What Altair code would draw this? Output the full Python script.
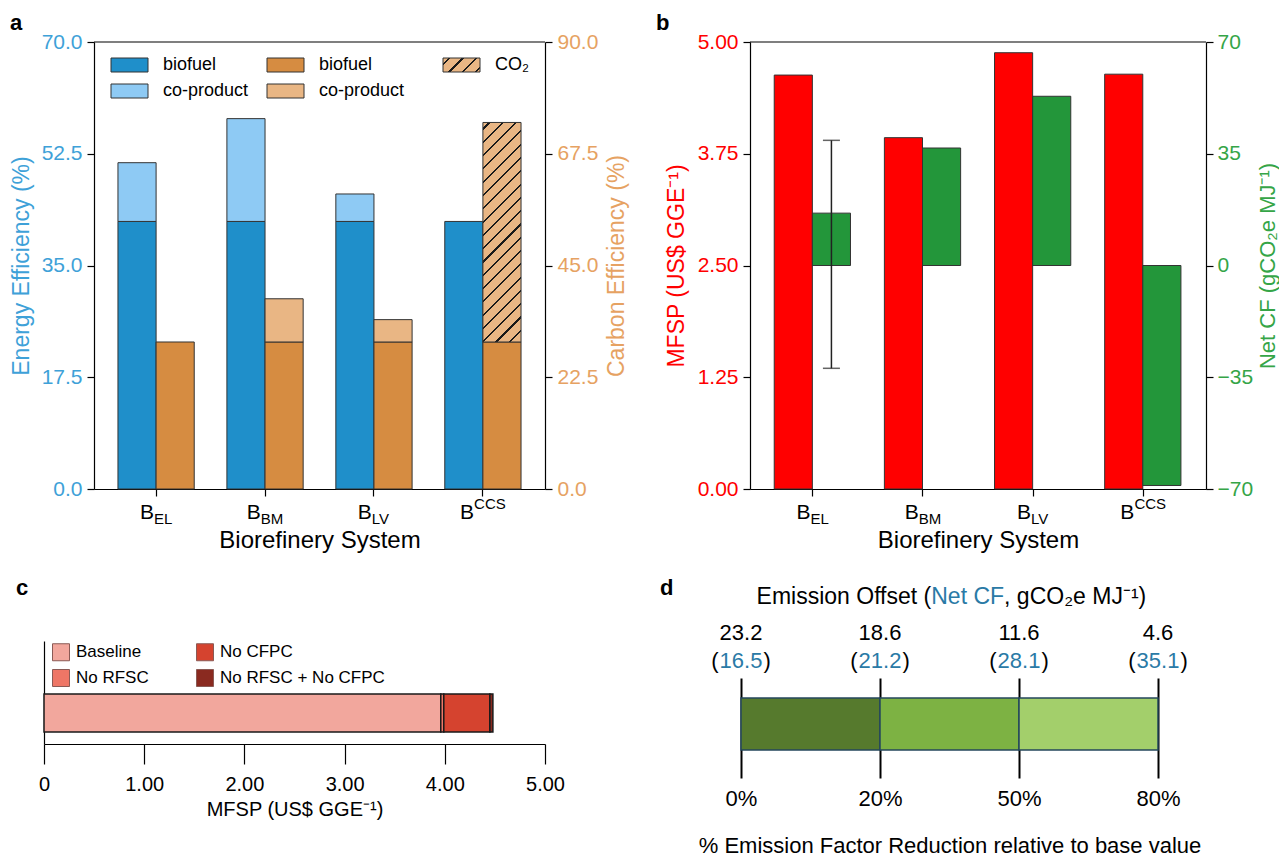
import math
import altair as alt
import pandas as pd

FONT = "Liberation Sans"

# ---------------- data ----------------
systems = ["BEL", "BBM", "BLV", "BCCS"]
sys_sub = ["EL", "BM", "LV", "CCS"]
sys_is_sup = [False, False, False, True]

energy_biofuel = [41.9, 41.9, 41.9, 41.9]
energy_coproduct = [9.2, 16.1, 4.3, 0.0]
carbon_biofuel = [29.6, 29.6, 29.6, 29.6]
carbon_coproduct = [0.0, 8.7, 4.5, 0.0]
carbon_co2 = [0.0, 0.0, 0.0, 44.2]

mfsp = [4.63, 3.93, 4.88, 4.64]
net_cf = [16.4, 36.8, 53.0, -68.9]
err_system = ["BEL"]
err_low = [-32.2]
err_high = [39.2]

scenarios = ["Baseline", "No RFSC", "No CFPC", "No RFSC + No CFPC"]
scenario_mfsp = [3.96, 3.99, 4.45, 4.48]

reduction_labels = ["0%", "20%", "50%", "80%"]
offset_values = ["23.2", "18.6", "11.6", "4.6"]
netcf_values = ["16.5", "21.2", "28.1", "35.1"]

legend_a_labels = ["biofuel", "biofuel", "CO\u2082", "co-product", "co-product"]

# ---------------- styles ----------------
BLUE = "#1f8fca"
LBLUE = "#8ecaf4"
ORANGE = "#d68c41"
LORANGE = "#e9b684"
BLUE_T = "#3ea1d8"
ORANGE_T = "#e6a262"
RED = "#ff0000"
GREEN = "#23963a"
GREEN_T = "#35a547"
NUM_BLUE = "#2a7aa6"
TICK_FS = 21
TITLE_FS = 23

CW = {'A': .667, 'B': .667, 'C': .722, 'D': .722, 'E': .667, 'F': .611, 'G': .778, 'H': .722,
      'I': .278, 'J': .5, 'K': .667, 'L': .556, 'M': .833, 'N': .722, 'O': .778, 'P': .667,
      'R': .722, 'S': .667, 'T': .611, 'V': .667, 'a': .556, 'b': .556, 'c': .5, 'd': .556,
      'e': .556, 'f': .278, 'g': .556, 'h': .556, 'i': .222, 'l': .222, 'm': .833, 'n': .556,
      'o': .556, 'r': .333, 's': .5, 't': .278, 'u': .556, 'y': .5, ' ': .278, '(': .333,
      ')': .333, ',': .278, '.': .278, '%': .889, '\u2082': .36, '\u207b': .36, '\u00b9': .333}


def tw(s, size):
    return sum(CW.get(ch, 0.556) for ch in s) * size


def hatch(w, h, spacing=9.4, lw=1.5, bg=LORANGE, fg="#1a1a1a"):
    r = h / w
    p = (1 + r) / (1 + r * r)
    q = r * p
    L = (w + h) / math.sqrt(2)
    per = spacing / L
    half = lw / L / 2
    stops = [{"offset": 0, "color": bg}]
    t = per / 2
    while t + half < 1:
        a, b = round(t - half, 5), round(t + half, 5)
        stops += [{"offset": a, "color": bg}, {"offset": a, "color": fg},
                  {"offset": b, "color": fg}, {"offset": b, "color": bg}]
        t += per
    stops.append({"offset": 1, "color": bg})
    return {"gradient": "linear", "x1": 0, "y1": 0, "x2": p, "y2": q, "stops": stops}


def txt(text, x, y, size, color="black", weight="normal", align="left", baseline="middle"):
    return alt.Chart(pd.DataFrame({"t": [text]})).mark_text(
        align=align, baseline=baseline, fontSize=size, fontWeight=weight, color=color
    ).encode(x=alt.value(x), y=alt.value(y), text="t:N")


def spacer(w, h):
    return alt.Chart(pd.DataFrame({"t": [0]})).mark_point(opacity=0).encode(
        x=alt.value(0), y=alt.value(0)).properties(width=w, height=h)


def sys_labels(X, H):
    layers = []
    for s, sub, sup in zip(systems, sys_sub, sys_is_sup):
        wb, ws = tw("B", 21), tw(sub, 15)
        dx = (wb - ws) / 2
        base = alt.Chart(pd.DataFrame({"sys": [s], "main": ["B"], "sub": [sub]})).encode(x=X)
        layers.append(base.mark_text(align="right", baseline="alphabetic", fontSize=21, dx=dx)
                      .encode(y=alt.value(H + 30), text="main:N"))
        layers.append(base.mark_text(align="left", baseline="alphabetic", fontSize=15, dx=dx)
                      .encode(y=alt.value(H + (20 if sup else 35)), text="sub:N"))
    return layers


def top_spine(W):
    return alt.Chart(pd.DataFrame({"t": [0]})).mark_rule(color="black", strokeWidth=1.2).encode(
        x=alt.value(0), x2=alt.value(W), y=alt.value(0))


def sys_x():
    return alt.X("sys:N", sort=systems,
                 scale=alt.Scale(domain=systems, paddingInner=0.3, paddingOuter=0.22),
                 axis=alt.Axis(labels=False, title="Biorefinery System", tickSize=7,
                               titleFontSize=24, titlePadding=32))


XO_SCALE = alt.Scale(domain=["L", "R"], paddingInner=0, paddingOuter=0)

# ---------------- panel a ----------------
WA, HA = 451, 447
rows_e, rows_c = [], []
for i, s in enumerate(systems):
    eb = energy_biofuel[i]
    rows_e.append(dict(sys=s, grp="L", part="bio_e", start=0, end=eb))
    if energy_coproduct[i] > 0:
        rows_e.append(dict(sys=s, grp="L", part="cop_e", start=eb, end=eb + energy_coproduct[i]))
    cb = carbon_biofuel[i]
    rows_c.append(dict(sys=s, grp="R", part="bio_c", start=0, end=cb))
    if carbon_coproduct[i] > 0:
        rows_c.append(dict(sys=s, grp="R", part="cop_c", start=cb, end=cb + carbon_coproduct[i]))
    if carbon_co2[i] > 0:
        rows_c.append(dict(sys=s, grp="R", part="co2", start=cb, end=cb + carbon_co2[i]))
dfE, dfC = pd.DataFrame(rows_e), pd.DataFrame(rows_c)

part_scale = alt.Scale(domain=["bio_e", "cop_e", "bio_c", "cop_c", "co2"],
                       range=[BLUE, LBLUE, ORANGE, LORANGE, LORANGE])
XA = sys_x()
XOA = alt.XOffset("grp:N", scale=XO_SCALE)

energy = alt.Chart(dfE).mark_bar(stroke="#333", strokeWidth=1).encode(
    x=XA, xOffset=XOA,
    y=alt.Y("start:Q", scale=alt.Scale(domain=[0, 70], nice=False),
            axis=alt.Axis(values=[0, 17.5, 35, 52.5, 70], format=".1f",
                          title="Energy Efficiency (%)", labelColor=BLUE_T, titleColor=BLUE_T,
                          tickSize=7, labelPadding=5, titlePadding=8)),
    y2="end:Q",
    fill=alt.Fill("part:N", scale=part_scale, legend=None),
)

step_a = WA / (4 - 0.3 + 2 * 0.22)
bar_w = step_a * 0.7 / 2
co2_h = carbon_co2[3] * HA / 90
co2_grad = hatch(bar_w, co2_h)

carbon = alt.Chart(dfC).mark_bar(stroke="#333", strokeWidth=1).encode(
    x=XA, xOffset=XOA,
    y=alt.Y("start:Q", scale=alt.Scale(domain=[0, 90], nice=False),
            axis=alt.Axis(orient="right", values=[0, 22.5, 45, 67.5, 90], format=".1f",
                          title="Carbon Efficiency (%)", labelColor=ORANGE_T, titleColor=ORANGE_T,
                          tickSize=7, labelPadding=5, titlePadding=8, titleAngle=270,
                          titleBaseline="top")),
    y2="end:Q",
    fill=alt.condition("datum.part == 'co2'", alt.value(co2_grad),
                       alt.Fill("part:N", scale=part_scale, legend=None)),
)

# manual legend for panel a
leg_cols = [17, 173, 349]
leg_rows = [16, 42]
leg_items = [(0, 0, BLUE), (1, 0, ORANGE), (2, 0, "hatch"), (0, 1, LBLUE), (1, 1, LORANGE)]
leg_layers = []
for (c, r, col), lab in zip(leg_items, legend_a_labels):
    x0, y0 = leg_cols[c], leg_rows[r]
    fill = hatch(37, 14) if col == "hatch" else col
    leg_layers.append(alt.Chart(pd.DataFrame({"t": [lab]})).mark_rect(
        fill=fill, stroke="#333", strokeWidth=1).encode(
        x=alt.value(x0), x2=alt.value(x0 + 37), y=alt.value(y0), y2=alt.value(y0 + 14)))
    leg_layers.append(txt(lab, x0 + 52, y0 + 7, 18))

panel_a = alt.layer(
    alt.layer(energy, top_spine(WA), txt("a", -84, -29, 22, weight="bold", baseline="top"),
              *sys_labels(XA, HA), *leg_layers),
    carbon,
).resolve_scale(y="independent").properties(width=WA, height=HA)

# ---------------- panel b ----------------
WB, HB = 456, 447
dfB = pd.DataFrame({"sys": systems, "mfsp": mfsp, "netcf": net_cf, "gm": "L", "gn": "R"})
dfErr = pd.DataFrame({"sys": err_system, "lo": err_low, "hi": err_high, "gn": "R"})
XB = sys_x()
NETCF_T = "Net CF (gCO\u2082e MJ\u207b\u00b9)"
netcf_scale = alt.Scale(domain=[-70, 70], nice=False)
netcf_axis = alt.Axis(orient="right", values=[-70, -35, 0, 35, 70], title=NETCF_T,
                      labelColor=GREEN_T, titleColor=GREEN_T, tickSize=7, labelPadding=4,
                      titlePadding=5, titleAngle=270, titleBaseline="top", titleFontSize=22)

red = alt.Chart(dfB).mark_bar(color=RED, stroke="#333", strokeWidth=1).encode(
    x=XB, xOffset=alt.XOffset("gm:N", scale=XO_SCALE),
    y=alt.Y("mfsp:Q", scale=alt.Scale(domain=[0, 5], nice=False),
            axis=alt.Axis(values=[0, 1.25, 2.5, 3.75, 5], format=".2f",
                          title="MFSP (US$ GGE\u207b\u00b9)", labelColor=RED, titleColor=RED,
                          tickSize=7, labelPadding=5, titlePadding=9)),
)
green = alt.Chart(dfB).mark_bar(color=GREEN, stroke="#333", strokeWidth=1).encode(
    x=XB, xOffset=alt.XOffset("gn:N", scale=XO_SCALE),
    y=alt.Y("netcf:Q", scale=netcf_scale, axis=netcf_axis, title=NETCF_T),
    y2=alt.datum(0),
)
err_base = alt.Chart(dfErr).encode(x=XB, xOffset=alt.XOffset("gn:N", scale=XO_SCALE))
err_rule = err_base.mark_rule(color="#222", strokeWidth=1.5).encode(
    y=alt.Y("lo:Q", scale=netcf_scale, axis=netcf_axis, title=NETCF_T), y2="hi:Q")
err_lo = err_base.mark_tick(color="#222", thickness=1.5, size=17, orient="horizontal").encode(
    y=alt.Y("lo:Q", scale=netcf_scale, axis=netcf_axis, title=NETCF_T))
err_hi = err_base.mark_tick(color="#222", thickness=1.5, size=17, orient="horizontal").encode(
    y=alt.Y("hi:Q", scale=netcf_scale, axis=netcf_axis, title=NETCF_T))

panel_b = alt.layer(
    alt.layer(red, top_spine(WB), txt("b", -94, -29, 22, weight="bold", baseline="top"),
              *sys_labels(XB, HB)),
    alt.layer(green, err_rule, err_lo, err_hi),
).resolve_scale(y="independent").properties(width=WB, height=HB)

# ---------------- panel c ----------------
WC, HC = 501, 103
starts = [0] + scenario_mfsp[:-1]
dfCc = pd.DataFrame({"scenario": scenarios, "start": starts, "end": scenario_mfsp, "row": "r"})
c_colors = {"Baseline": "#f2a79d", "No RFSC": "#ee7666", "No CFPC": "#d5432f", "No RFSC + No CFPC": "#8a2a20"}

bars_c = alt.Chart(dfCc).mark_bar(stroke="#1a1a1a", strokeWidth=1.5).encode(
    x=alt.X("start:Q", scale=alt.Scale(domain=[0, 5], nice=False),
            axis=alt.Axis(values=[0, 1, 2, 3, 4, 5],
                          labelExpr="datum.value == 0 ? '0' : format(datum.value, '.2f')",
                          labelFlush=False, tickSize=20, labelPadding=10, labelFontSize=20,
                          titleFontSize=20, title="MFSP (US$ GGE\u207b\u00b9)", titlePadding=5)),
    x2="end:Q",
    y=alt.Y("row:N", scale=alt.Scale(paddingInner=0, paddingOuter=0.855, align=0.815),
            axis=alt.Axis(labels=False, ticks=False, title=None)),
    fill=alt.Fill("scenario:N", scale=alt.Scale(domain=scenarios, range=[c_colors[k] for k in scenarios]),
                  legend=alt.Legend(orient="none", legendX=8, legendY=2, columns=2, title=None,
                                    symbolType="square", symbolSize=289, symbolStrokeColor="#8a5a55",
                                    symbolStrokeWidth=1, labelFontSize=17, labelOffset=6,
                                    labelLimit=400, columnPadding=45, rowPadding=4, padding=0)),
)
panel_c = alt.layer(bars_c, txt("c", -28, -63, 22, weight="bold", baseline="top")).properties(
    width=WC, height=HC)

# ---------------- panel d ----------------
WD, HD = 417, 100
seg_names = ["s0", "s1", "s2"]
dfD = pd.DataFrame({"seg": seg_names, "s": [0, 1, 2], "e": [1, 2, 3], "row": "r"})
lab_arr = "[" + ",".join("'%s'" % l for l in reduction_labels) + "]"
XD = alt.X("s:Q", scale=alt.Scale(domain=[0, 3], nice=False, zero=False),
           axis=alt.Axis(values=[0, 1, 2, 3], labelExpr=lab_arr + "[datum.value]", grid=True,
                         labelFlush=False, gridColor="black", gridWidth=2, ticks=False, domain=False,
                         labelFontSize=22, labelPadding=10,
                         title="% Emission Factor Reduction relative to base value",
                         titleFontSize=22, titlePadding=26))
bars_d = alt.Chart(dfD).mark_bar(stroke="#24475c", strokeWidth=1.5).encode(
    x=XD, x2="e:Q",
    y=alt.Y("row:N", scale=alt.Scale(paddingInner=0, paddingOuter=0.4615, align=0.4167), axis=None),
    fill=alt.Fill("seg:N", scale=alt.Scale(domain=seg_names, range=["#567a2d", "#7db243", "#a3cf6b"]),
                  legend=None),
)
dfT = pd.DataFrame({"s": list(range(len(reduction_labels))), "off": offset_values, "ncf": netcf_values})
tbase = alt.Chart(dfT).encode(x=XD)
wn = tw("16.5", 22)
d_top = [
    tbase.mark_text(fontSize=22, baseline="middle").encode(y=alt.value(-45), text="off:N"),
    tbase.mark_text(fontSize=22, baseline="middle", color=NUM_BLUE).encode(y=alt.value(-17), text="ncf:N"),
    tbase.mark_text(fontSize=22, baseline="middle", align="right", dx=-wn / 2 - 1).encode(
        y=alt.value(-17), text=alt.value("(")),
    tbase.mark_text(fontSize=22, baseline="middle", align="left", dx=wn / 2 + 1).encode(
        y=alt.value(-17), text=alt.value(")")),
]
TFS = 23
t1, t2, t3 = "Emission Offset (", "Net CF", ", gCO\u2082e MJ\u207b\u00b9)"
tot = tw(t1, TFS) + tw(t2, TFS) + tw(t3, TFS)
x_start = 210 - tot / 2
xa = x_start + tw(t1, TFS)
xb = xa + tw(t2, TFS)
d_title = [txt(t1, xa, -81, TFS, align="right"), txt(t2, xa, -81, TFS, color=NUM_BLUE),
           txt(t3, xb, -81, TFS)]
panel_d = alt.layer(bars_d, *d_top, *d_title, txt("d", -81, -100, 22, weight="bold", baseline="top")
                    ).properties(width=WD, height=HD)

# ---------------- layout ----------------
row1 = alt.hconcat(spacer(50, 10),
                   alt.hconcat(panel_a, panel_b, spacing=27).resolve_scale(fill="independent"),
                   spacing=0, bounds="flush").resolve_scale(fill="independent")
d_block = alt.vconcat(spacer(1, 37), panel_d, spacing=0, bounds="flush").resolve_scale(fill="independent")
row2 = alt.hconcat(panel_c, d_block, spacing=95).resolve_scale(fill="independent")
chart = alt.vconcat(row1, row2, spacing=24).resolve_scale(fill="independent").properties(
    padding={"left": 10, "top": 12, "right": 0, "bottom": 0}
).configure(font=FONT).configure_view(stroke=None).configure_axis(
    labelFont=FONT, titleFont=FONT, labelFontSize=TICK_FS, titleFontSize=TITLE_FS,
    titleFontWeight="normal", domainColor="black", tickColor="black", labelColor="black",
    titleColor="black", domainWidth=1.2, tickWidth=1.2, grid=False
).configure_legend(labelFont=FONT).configure_text(font=FONT)

chart.save("out.html", embed_options={"renderer": "svg", "actions": False})
